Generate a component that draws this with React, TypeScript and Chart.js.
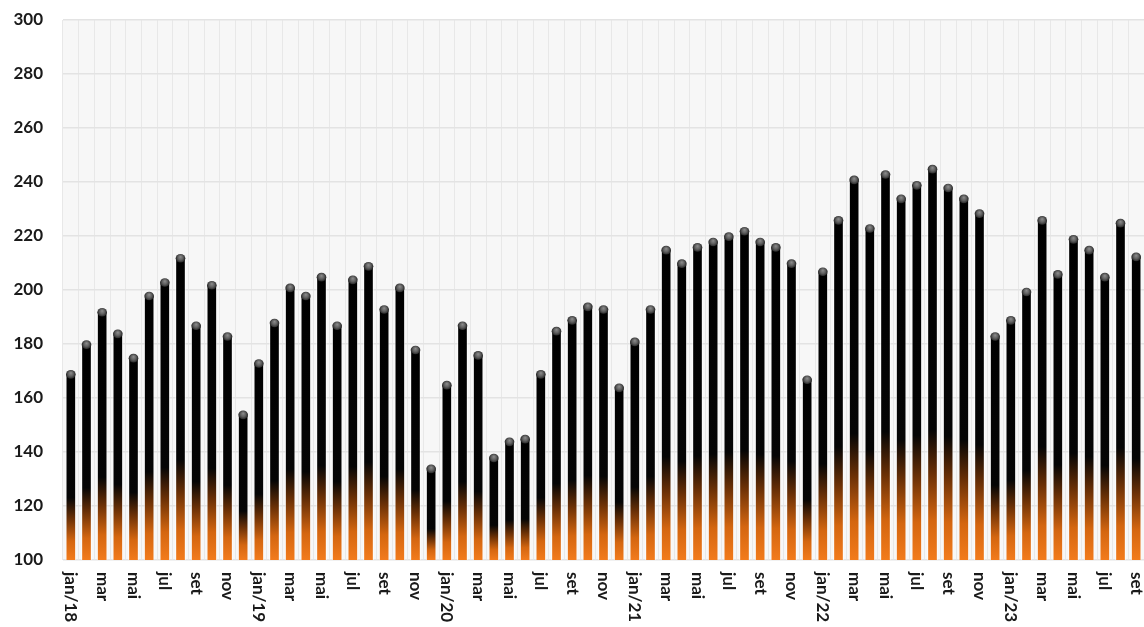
import React, { useEffect, useRef } from "react";
import { Chart, registerables } from "chart.js";

Chart.register(...registerables);

const monthNames = ["jan", "fev", "mar", "abr", "mai", "jun", "jul", "ago", "set", "out", "nov", "dez"];
const years = ["18", "19", "20", "21", "22", "23"];

const values2018 = [170, 181, 193, 185, 176, 199, 204, 213, 188, 203, 184, 155];
const values2019 = [174, 189, 202, 199, 206, 188, 205, 210, 194, 202, 179, 135];
const values2020 = [166, 188, 177, 139, 145, 146, 170, 186, 190, 195, 194, 165];
const values2021 = [182, 194, 216, 211, 217, 219, 221, 223, 219, 217, 211, 168];
const values2022 = [208, 227, 242, 224, 244, 235, 240, 246, 239, 235, 229.5, 184];
const values2023 = [190, 200.5, 227, 207, 220, 216, 206, 226, 213.5];

const seriesValues = [...values2018, ...values2019, ...values2020, ...values2021, ...values2022, ...values2023];

const categories: string[] = [];
years.forEach((yy) => {
  monthNames.forEach((m, i) => {
    categories.push(i === 0 ? `${m}/${yy}` : m);
  });
});
categories.length = seriesValues.length;

const yTicks = { min: 100, max: 300, step: 20 };

const FONT = "Lato, 'Open Sans', sans-serif";

export default function App() {
  const ref = useRef<HTMLCanvasElement | null>(null);

  useEffect(() => {
    if (!ref.current) return;

    const bgPlugin = {
      id: "plotBg",
      beforeDraw(chart: any) {
        const { ctx, chartArea } = chart;
        if (!chartArea) return;
        ctx.save();
        ctx.fillStyle = "#f7f7f7";
        ctx.fillRect(chartArea.left, chartArea.top, chartArea.right - chartArea.left, chartArea.bottom - chartArea.top);
        ctx.restore();
      },
    };

    const capPlugin = {
      id: "caps",
      afterDatasetsDraw(chart: any) {
        const { ctx } = chart;
        const meta = chart.getDatasetMeta(0);
        ctx.save();
        meta.data.forEach((el: any) => {
          const r = el.width / 2 - 0.5;
          const cx = el.x;
          const cy = el.y + r - 1.5;
          const g = ctx.createRadialGradient(cx, cy - r * 0.3, 0, cx, cy, r * 1.1);
          g.addColorStop(0, "#8e8e8e");
          g.addColorStop(0.5, "#5e5e5e");
          g.addColorStop(1, "#141414");
          ctx.fillStyle = g;
          ctx.beginPath();
          ctx.ellipse(cx, cy, r, r * 0.9, 0, 0, Math.PI * 2);
          ctx.fill();
        });
        ctx.restore();
      },
    };

    const xLabelPlugin = {
      id: "xLabels",
      afterDraw(chart: any) {
        const { ctx, chartArea } = chart;
        const xs = chart.scales.x;
        ctx.save();
        ctx.fillStyle = "#1a1a1a";
        ctx.font = `bold 17px ${FONT}`;
        ctx.textAlign = "left";
        ctx.textBaseline = "middle";
        categories.forEach((lab, i) => {
          if (i % 2 !== 0) return;
          const x = xs.getPixelForValue(i);
          ctx.save();
          ctx.translate(x, chartArea.bottom + 12);
          ctx.rotate(Math.PI / 2);
          ctx.fillText(lab, 0, 0);
          ctx.restore();
        });
        ctx.restore();
      },
    };

    const chart = new Chart(ref.current, {
      type: "bar",
      data: {
        labels: categories,
        datasets: [
          {
            data: seriesValues,
            backgroundColor: (c: any) => {
              const ch = c.chart;
              const ys = ch.scales?.y;
              if (!ch.chartArea || !ys || typeof c.raw !== "number") return "#000";
              const top = ys.getPixelForValue(c.raw);
              const base = ys.getPixelForValue(yTicks.min);
              if (!isFinite(top) || !isFinite(base) || top === base) return "#000";
              const g = ch.ctx.createLinearGradient(0, base, 0, top);
              g.addColorStop(0, "#f27b1c");
              g.addColorStop(0.1, "#d46610");
              g.addColorStop(0.22, "#6a3006");
              g.addColorStop(0.33, "#050505");
              g.addColorStop(1, "#000000");
              return g;
            },
            borderColor: "rgba(255,255,255,0.7)",
            borderWidth: 1,
            borderSkipped: "bottom",
            borderRadius: { topLeft: 5, topRight: 5, bottomLeft: 0, bottomRight: 0 },
            barPercentage: 0.68,
            categoryPercentage: 1,
          },
        ],
      },
      options: {
        animation: false,
        responsive: true,
        maintainAspectRatio: false,
        layout: { padding: { top: 20, right: 0, left: 0, bottom: 0 } },
        plugins: {
          legend: { display: false },
          tooltip: { enabled: false },
        },
        scales: {
          x: {
            ticks: { display: false },
            grid: { color: "#e8e8e8", lineWidth: 1, drawTicks: false, offset: true },
            border: { display: false },
            afterFit: (s: any) => {
              s.height = 67;
            },
          },
          y: {
            min: yTicks.min,
            max: yTicks.max,
            ticks: {
              stepSize: yTicks.step,
              padding: 20,
              color: "#1a1a1a",
              font: { family: FONT, size: 17, weight: "bold" },
            },
            grid: { color: "#e3e3e3", lineWidth: 1.5, drawTicks: false },
            border: { display: false },
            afterFit: (s: any) => {
              s.width = 63;
              s.paddingTop = 0;
              s.paddingBottom = 0;
            },
          },
        },
      },
      plugins: [bgPlugin, capPlugin, xLabelPlugin],
    });

    return () => chart.destroy();
  }, []);

  return (
    <div style={{ position: "fixed", left: 0, top: 0, width: 1144, height: 627, background: "#fff" }}>
      <canvas ref={ref} />
    </div>
  );
}
